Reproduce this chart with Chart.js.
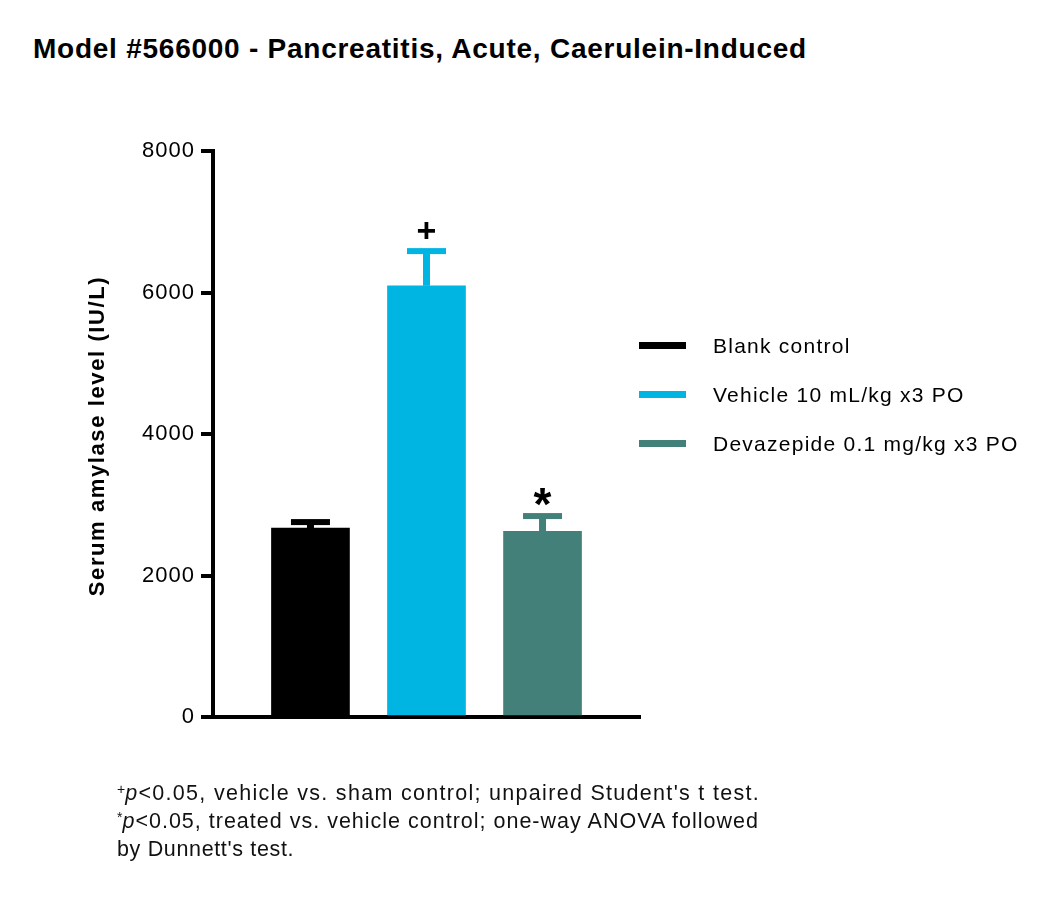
<!DOCTYPE html>
<html>
<head>
<meta charset="utf-8">
<script src="https://cdn.jsdelivr.net/npm/chart.js@4"></script>
<style>
  html, body { margin:0; padding:0; background:#fff; }
  #wrap { position:relative; width:1050px; height:897px; overflow:hidden; }
  #title { position:absolute; left:33px; top:33px; font-family:"Liberation Sans", Arial, sans-serif; font-weight:bold; font-size:28px; line-height:32px; letter-spacing:0.75px; color:#000; white-space:nowrap; }
  #foot { position:absolute; left:117px; top:779px; font-family:"Liberation Sans", Arial, sans-serif; font-size:21.5px; line-height:28px; color:#111; white-space:nowrap; }
  #foot i { font-style:italic; }
  #foot sup { font-size:14px; vertical-align:top; position:relative; top:-4px; letter-spacing:0; }
  #foot .l1 { letter-spacing:1.3px; }
  #foot .l2 { letter-spacing:1.0px; }
  #foot .l3 { letter-spacing:0.65px; }
  canvas { position:absolute; left:0; top:0; }
</style>
</head>
<body>
<div id="wrap">
  <div id="title">Model #566000 - Pancreatitis, Acute, Caerulein-Induced</div>
  <canvas id="c" width="1050" height="897"></canvas>
  <div id="foot"><span class="l1"><sup>+</sup><i>p</i>&lt;0.05, vehicle vs. sham control; unpaired Student's t test.</span><br><span class="l2"><sup>*</sup><i>p</i>&lt;0.05, treated vs. vehicle control; one-way ANOVA followed</span><br><span class="l3">by Dunnett's test.</span></div>
</div>
<script>
const groups = ['Blank control', 'Vehicle 10 mL/kg x3 PO', 'Devazepide 0.1 mg/kg x3 PO'];
const means = [2670, 6095, 2625];
const errors = [85, 490, 215];
const markers = ['', '+', '*'];
const colors = ['#000000', '#00B5E2', '#44807A'];
const yTicks = [0, 2000, 4000, 6000, 8000];
const yTitle = 'Serum amylase level (IU/L)';

const FONT = '"Liberation Sans", Arial, sans-serif';

const datasets = groups.map((g, i) => ({
  label: g,
  data: [{x: i, y: means[i]}],
  backgroundColor: colors[i],
  borderWidth: 0,
  barThickness: 78,
  grouped: false
}));

const spacingPlugin = {
  id: 'spacing',
  beforeDraw(chart) { chart.ctx.letterSpacing = '1px'; }
};

const errorPlugin = {
  id: 'errbars',
  afterDatasetsDraw(chart) {
    const ctx = chart.ctx;
    const xs = chart.scales.x, ys = chart.scales.y;
    ctx.save();
    ctx.letterSpacing = '0px';
    groups.forEach((g, i) => {
      const cx = xs.getPixelForValue(i);
      const top = ys.getPixelForValue(means[i]);
      const cap = ys.getPixelForValue(means[i] + errors[i]);
      ctx.fillStyle = colors[i];
      ctx.fillRect(cx - 3.5, cap, 7, top - cap);
      ctx.fillRect(cx - 19.5, cap - 3, 39, 6);
      if (markers[i]) {
        ctx.fillStyle = '#000';
        const size = markers[i] === '*' ? 46 : 34;
        ctx.font = 'bold ' + size + 'px ' + FONT;
        ctx.textAlign = 'center';
        ctx.textBaseline = 'alphabetic';
        const m = ctx.measureText(markers[i]);
        const center = cap - (markers[i] === '*' ? 19 : 21);
        const baseline = center + (m.actualBoundingBoxAscent - m.actualBoundingBoxDescent) / 2;
        ctx.fillText(markers[i], cx, baseline);
      }
    });
    ctx.restore();
  }
};

const decorPlugin = {
  id: 'decor',
  afterDraw(chart) {
    const ctx = chart.ctx;
    ctx.save();
    // legend
    groups.forEach((g, i) => {
      const y = 345.5 + i * 49;
      ctx.fillStyle = colors[i];
      ctx.fillRect(639, y - 3.5, 47, 7);
      ctx.fillStyle = '#000';
      ctx.font = '21px ' + FONT;
      ctx.letterSpacing = '1.25px';
      ctx.textAlign = 'left';
      ctx.textBaseline = 'middle';
      ctx.fillText(g, 713, y + 1.5);
    });
    // y-axis title
    ctx.translate(104, 436);
    ctx.rotate(-Math.PI / 2);
    ctx.font = 'bold 22px ' + FONT;
    ctx.letterSpacing = '1.6px';
    ctx.textAlign = 'center';
    ctx.textBaseline = 'alphabetic';
    ctx.fillStyle = '#000';
    ctx.fillText(yTitle, 0, 0);
    ctx.restore();
  }
};

new Chart(document.getElementById('c'), {
  type: 'bar',
  data: { datasets },
  options: {
    responsive: false,
    animation: false,
    devicePixelRatio: 1,
    layout: { padding: { left: 84, right: 410, top: 151, bottom: 180 } },
    plugins: { legend: { display: false }, tooltip: { enabled: false } },
    scales: {
      x: {
        type: 'linear',
        offset: false,
        min: -0.84,
        max: 2.84,
        ticks: { display: false },
        grid: { display: false },
        border: { display: true, color: '#000', width: 4 },
        afterFit(s) { s.height = 0; }
      },
      y: {
        min: 0,
        max: 8000,
        afterBuildTicks(s) { s.ticks = yTicks.map(v => ({ value: v })); },
        ticks: { color: '#000', font: { family: FONT, size: 22 }, padding: 6, callback: v => String(v) },
        grid: { display: true, drawOnChartArea: false, drawTicks: true, tickLength: 12, tickWidth: 4, tickColor: '#000', lineWidth: 4, color: '#000' },
        border: { display: true, color: '#000', width: 4 },
        title: { display: false },
        afterFit(s) { s.width = 129; }
      }
    }
  },
  plugins: [spacingPlugin, errorPlugin, decorPlugin]
});
</script>
</body>
</html>
